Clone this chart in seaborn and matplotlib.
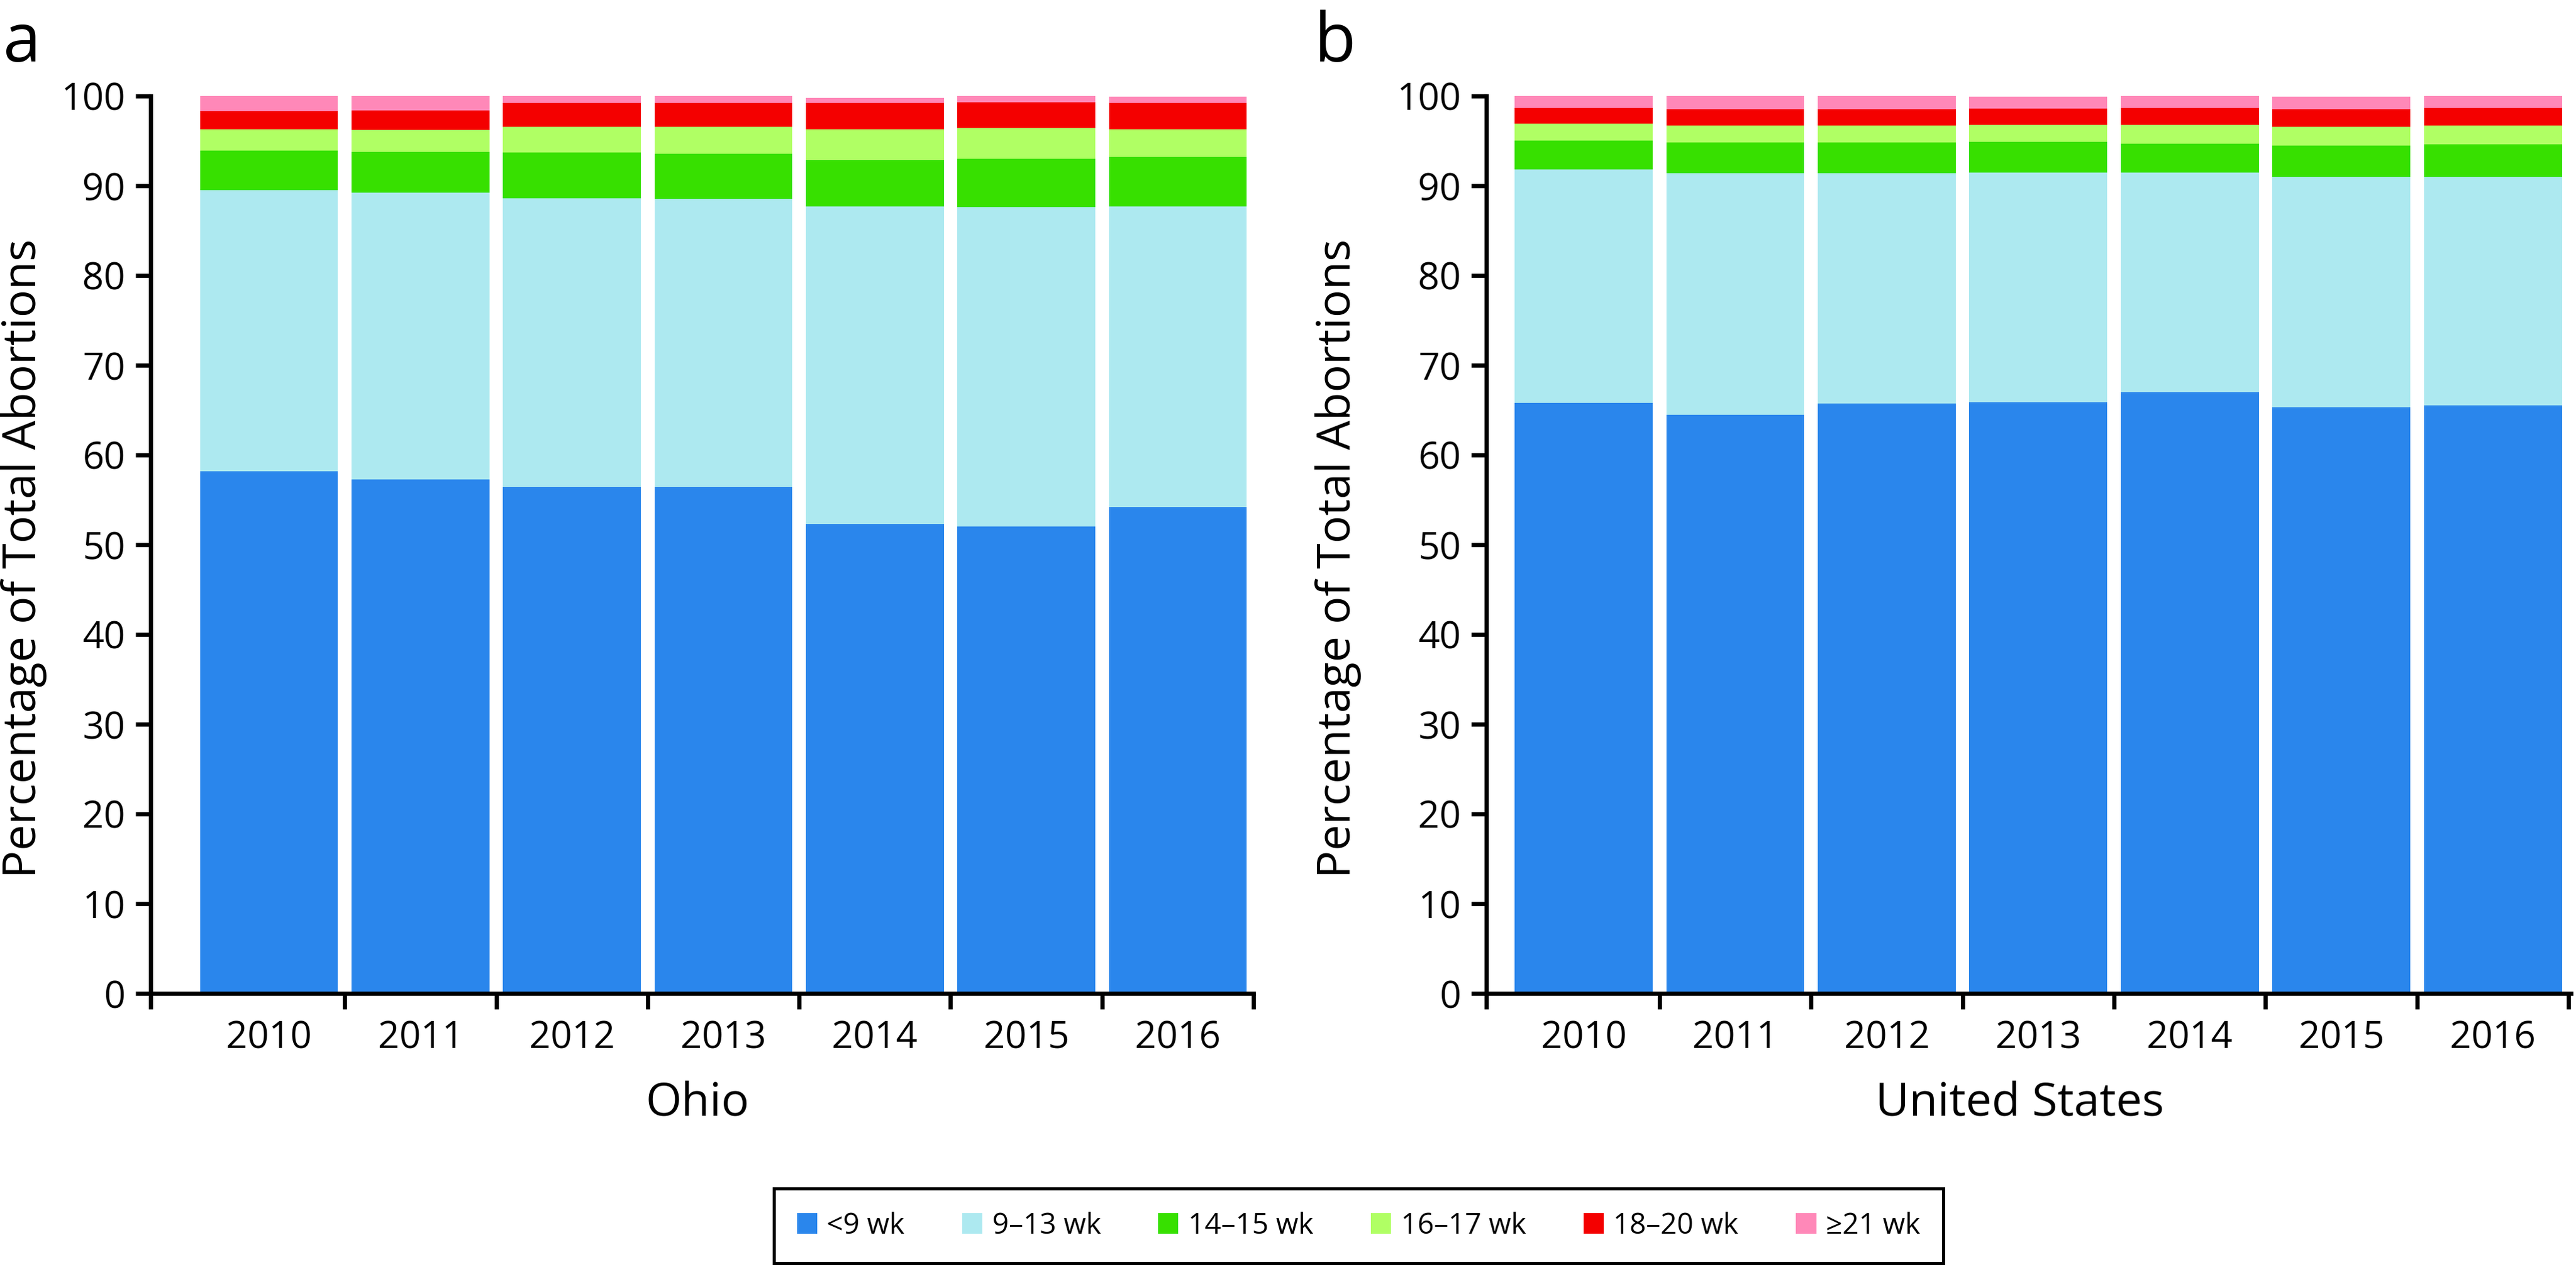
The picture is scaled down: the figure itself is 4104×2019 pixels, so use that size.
import numpy as np
import pandas as pd
import matplotlib
matplotlib.use("Agg")
import matplotlib.pyplot as plt
import seaborn as sns
from matplotlib.patches import Patch

# ---------------- data ----------------
years = ["2010", "2011", "2012", "2013", "2014", "2015", "2016"]
categories = ["<9 wk", "9–13 wk", "14–15 wk", "16–17 wk", "18–20 wk", "≥21 wk"]
colors = ["#2A86EC", "#ADE9F0", "#37E000", "#B0FF64", "#F40000", "#FF88B8"]

ohio_lt9 = [58.2, 57.3, 56.4, 56.4, 52.3, 52.0, 54.2]
ohio_9_13 = [31.3, 31.9, 32.2, 32.1, 35.4, 35.6, 33.5]
ohio_14_15 = [4.4, 4.6, 5.1, 5.1, 5.2, 5.4, 5.5]
ohio_16_17 = [2.4, 2.4, 2.9, 3.0, 3.4, 3.4, 3.1]
ohio_18_20 = [2.0, 2.2, 2.6, 2.6, 2.9, 2.9, 2.9]
ohio_ge21 = [1.7, 1.6, 0.8, 0.8, 0.6, 0.7, 0.7]

us_lt9 = [65.8, 64.5, 65.7, 65.9, 67.0, 65.3, 65.5]
us_9_13 = [26.0, 26.9, 25.7, 25.6, 24.5, 25.7, 25.5]
us_14_15 = [3.2, 3.4, 3.4, 3.4, 3.2, 3.5, 3.6]
us_16_17 = [1.9, 1.9, 1.9, 1.9, 2.1, 2.1, 2.1]
us_18_20 = [1.8, 1.8, 1.8, 1.8, 1.9, 1.9, 2.0]
us_ge21 = [1.3, 1.5, 1.5, 1.3, 1.3, 1.4, 1.3]

ohio_series = [ohio_lt9, ohio_9_13, ohio_14_15, ohio_16_17, ohio_18_20, ohio_ge21]
us_series = [us_lt9, us_9_13, us_14_15, us_16_17, us_18_20, us_ge21]

# ---------------- style ----------------
sns.set_theme(style="ticks", rc={
    "axes.edgecolor": "black",
    "xtick.color": "black",
    "ytick.color": "black",
    "text.color": "black",
    "axes.labelcolor": "black",
})
plt.rcParams["font.family"] = ["Open Sans", "DejaVu Sans"]

W, H = 4104, 2019
DPI = 200
fig = plt.figure(figsize=(W / DPI, H / DPI), dpi=DPI)

y0 = 1 - 1583 / H
hgt = 1430 / H
ax1 = fig.add_axes([240 / W, y0, 1757 / W, hgt])
ax2 = fig.add_axes([2368 / W, y0, 1728 / W, hgt])

LW = 2.4


def draw(ax, series, xlim, xlabel, ylab_x, xlab_pos):
    stack = np.cumsum(np.array(series, dtype=float), axis=0)
    for i in range(len(categories) - 1, -1, -1):
        df = pd.DataFrame({"year": years, "value": stack[i]})
        sns.barplot(data=df, x="year", y="value", order=years, color=colors[i],
                    saturation=1, width=0.91, linewidth=0, errorbar=None, ax=ax)
    ax.set_ylim(0, 100)
    ax.set_xlim(*xlim)
    ax.set_yticks(np.arange(0, 101, 10))
    ax.set_xticks(range(len(years)))
    ax.set_xticklabels(years)
    ax.set_xticks([xlim[0], 0.5, 1.5, 2.5, 3.5, 4.5, 5.5, 6.5], minor=True)
    ax.tick_params(axis="x", which="major", length=0, pad=15, labelsize=21.5)
    ax.tick_params(axis="x", which="minor", length=9, width=LW, direction="out")
    ax.tick_params(axis="y", which="major", length=8.5, width=LW, pad=6, labelsize=21.5)
    for s in ["top", "right"]:
        ax.spines[s].set_visible(False)
    for s in ["left", "bottom"]:
        ax.spines[s].set_linewidth(LW)
    ax.set_ylabel("Percentage of Total Abortions", fontsize=26.5)
    ax.yaxis.set_label_coords(ylab_x, 0.485)
    ax.set_xlabel(xlabel, fontsize=26.5)
    ax.xaxis.set_label_coords(xlab_pos, -0.097)
    ax.grid(False)


draw(ax1, ohio_series, (-0.782, 6.497), "Ohio", -0.094, 0.496)
draw(ax2, us_series, (-0.642, 6.515), "United States", -0.115, 0.492)

fig.text(5 / W, 1 - 98 / H, "a", fontsize=39, ha="left", va="baseline")
fig.text(2094 / W, 1 - 98 / H, "b", fontsize=39, ha="left", va="baseline")

handles = [Patch(facecolor=c, edgecolor="none", label=l) for c, l in zip(colors, categories)]
leg = fig.legend(handles=handles, labels=categories, loc="center",
                 bbox_to_anchor=(1233 / W, (H - 2013) / H, 1863 / W, 119 / H),
                 mode="expand", borderaxespad=0, ncol=6, fontsize=16.5,
                 handlelength=0.7, handleheight=0.72, handletextpad=0.34,
                 columnspacing=1.9, borderpad=0.8, fancybox=False,
                 frameon=True, framealpha=1, edgecolor="black")
leg.get_frame().set_linewidth(1.8)

fig.savefig("out.png", dpi=DPI)
